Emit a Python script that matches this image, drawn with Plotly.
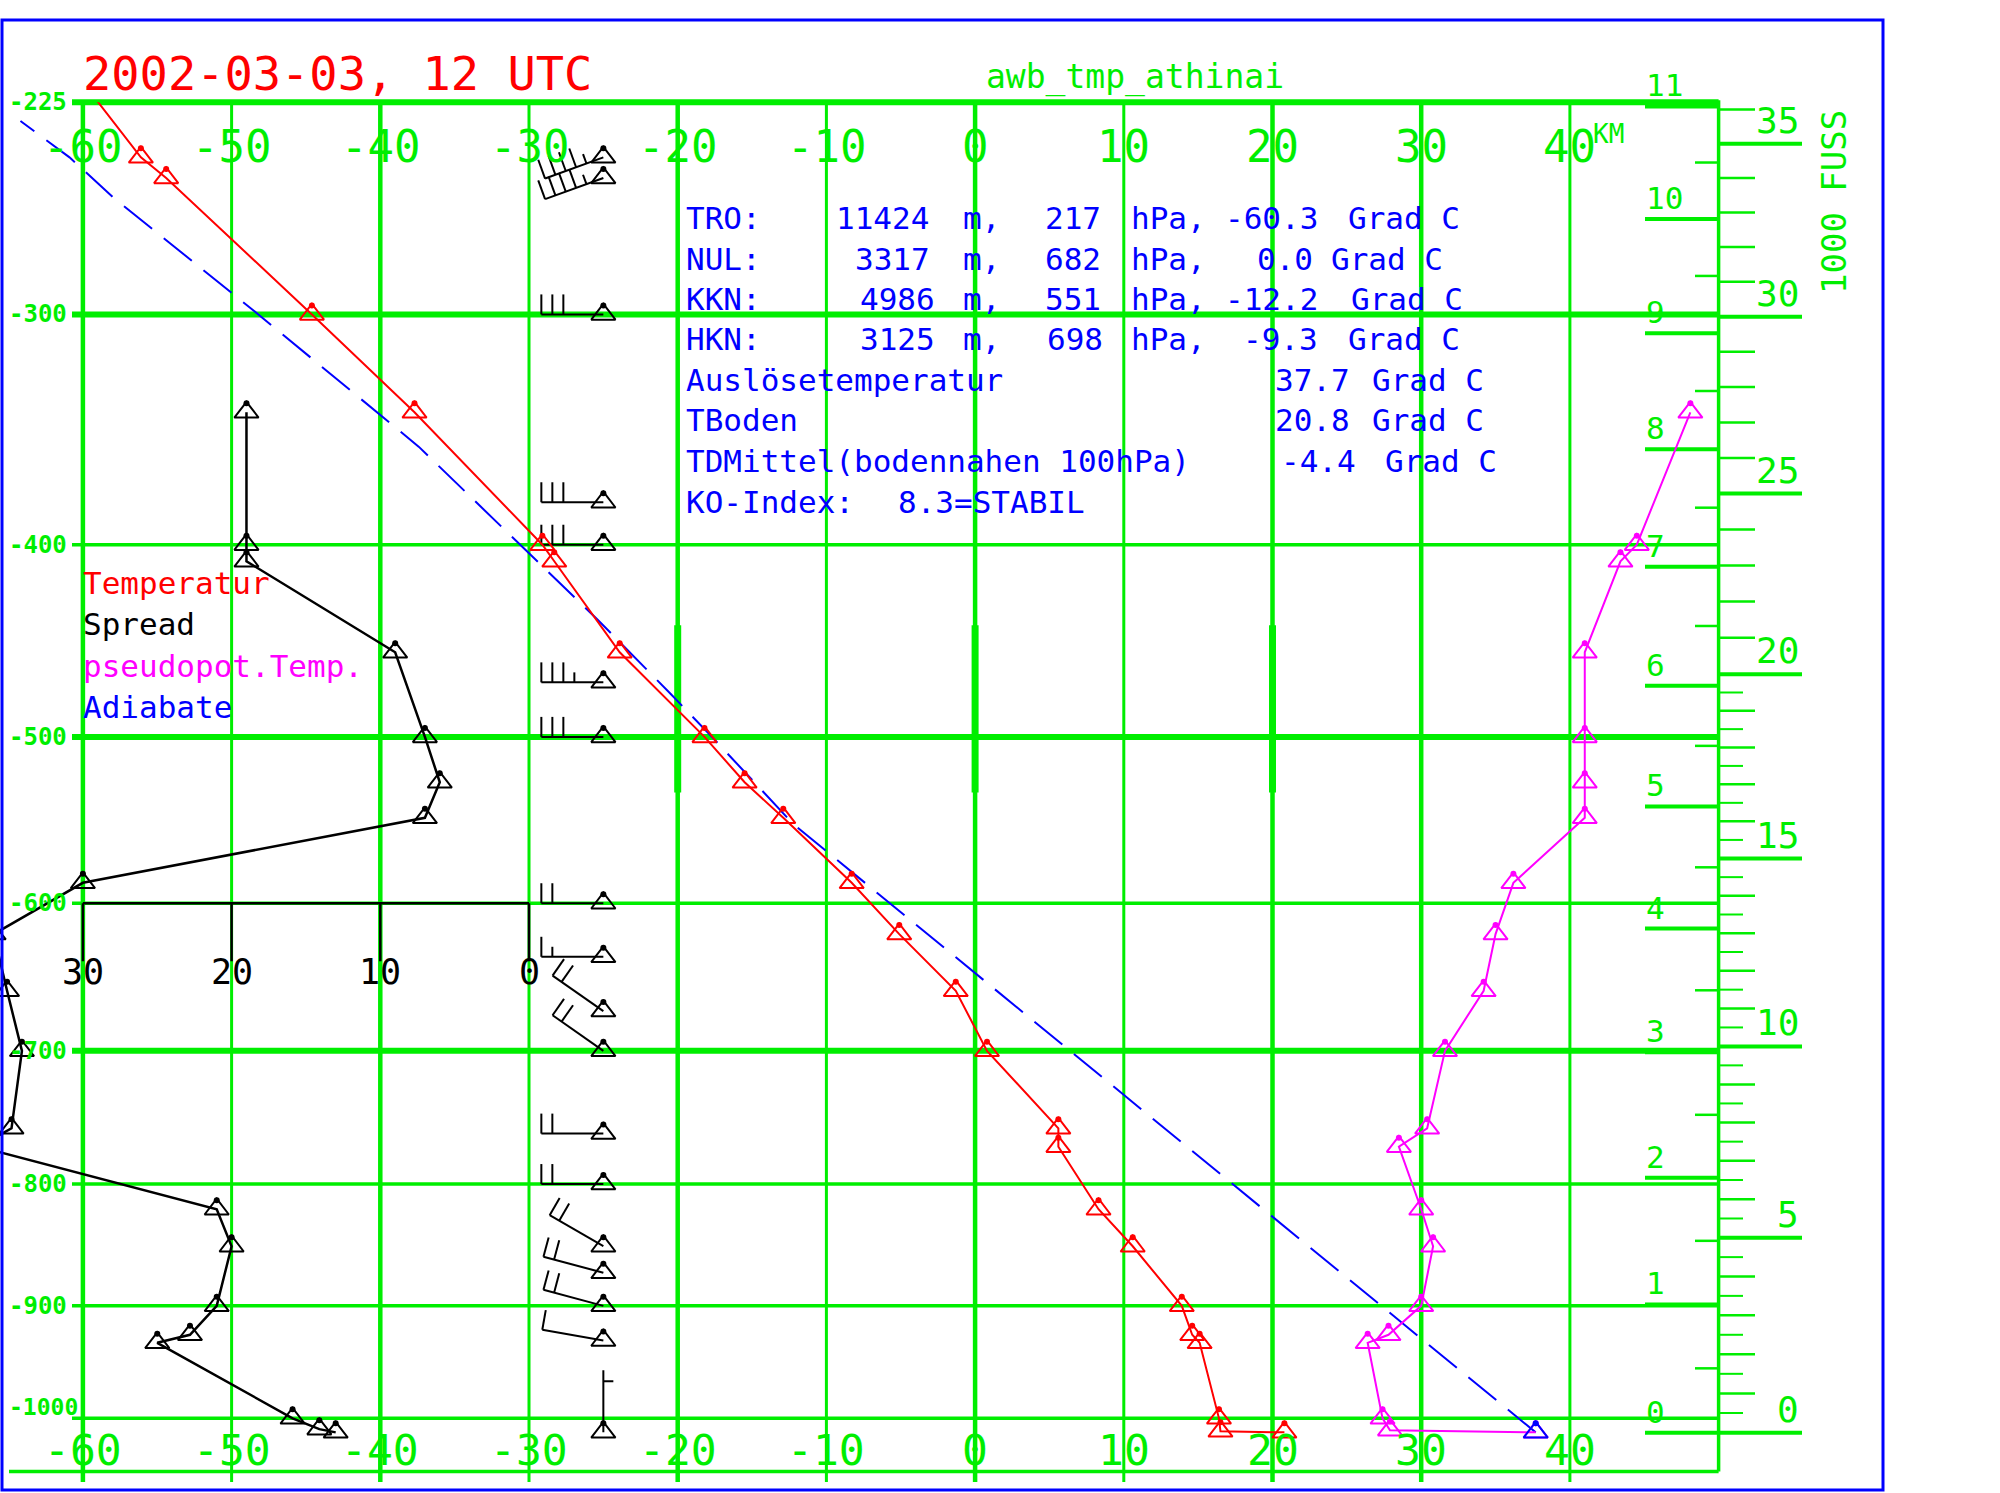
import numpy as np
import plotly.graph_objects as go

# ---------------- data ----------------
temp_p = [217, 243, 250, 300, 340, 400, 408, 454, 500, 526, 547, 587, 620, 658, 700,
          757, 771, 820, 850, 900, 925, 932, 1000, 1012, 1013]
temp_t = [-60.3, -56.1, -54.4, -44.6, -37.7, -29.1, -28.3, -23.9, -18.2, -15.5, -12.9, -8.3,
          -5.1, -1.3, 0.8, 5.6, 5.6, 8.3, 10.6, 13.9, 14.6, 15.1, 16.4, 16.5, 20.8]

spread_p = [340, 400, 408, 454, 500, 526, 547, 587, 620, 658, 700, 757, 771, 820, 850,
            900, 925, 932, 1000, 1010, 1013]
spread_v = [19, 19, 19, 9, 7, 6, 7, 30, 36, 35.1, 34.1, 34.8, 37, 21, 20,
            21, 22.8, 25, 15.9, 14.1, 13]

theta_p = [340, 400, 408, 454, 500, 526, 547, 587, 620, 658, 700, 757, 771, 820, 850,
           900, 925, 932, 1000, 1011, 1013]
theta_t = [48.1, 44.5, 43.4, 41.0, 41.0, 41.0, 41.0, 36.2, 35.0, 34.2, 31.6, 30.4, 28.5, 30.0, 30.8,
           30.0, 27.8, 26.4, 27.4, 27.9, 37.7]

adiab_p = [1013, 551, 500, 476, 437, 400, 355, 300, 257, 243, 231]
adiab_t = [37.7, -12.2, -17.7, -20.5, -25.4, -30.6, -37.4, -48.2, -57.9, -60.9, -64.2]

wind_p = [243, 250, 300, 380, 400, 470, 500, 600, 635, 672, 700, 761, 800, 850, 872, 900, 930, 1013]
wind_dir = [250, 250, 270, 270, 270, 270, 270, 270, 270, 305, 305, 270, 270, 300, 285, 285, 280, 360]
wind_kt = [45, 45, 30, 30, 30, 35, 30, 20, 15, 20, 20, 20, 20, 20, 20, 20, 10, 5]
wind_station_t = -25.0

temp_ticks = [-60, -50, -40, -30, -20, -10, 0, 10, 20, 30, 40]
temp_thick = [-60, -40, -20, 0, 20, 30]
pres_ticks = [225, 300, 400, 500, 600, 700, 800, 900, 1000]
pres_thick = [225, 300, 500, 700]
spread_ticks = [30, 20, 10, 0]
km_ticks = list(range(0, 12))
ft_ticks = [0, 5, 10, 15, 20, 25, 30, 35]

title_text = "2002-03-03, 12 UTC"
station_text = "awb_tmp_athinai"
info_rows = [
    [("TRO:", 685), ("11424", 835), ("m,", 962), ("217", 1044), ("hPa,", 1130), ("-60.3", 1224), ("Grad C", 1347)],
    [("NUL:", 685), ("3317", 854), ("m,", 962), ("682", 1044), ("hPa,", 1130), ("0.0", 1256), ("Grad C", 1330)],
    [("KKN:", 685), ("4986", 859), ("m,", 962), ("551", 1044), ("hPa,", 1130), ("-12.2", 1224), ("Grad C", 1350)],
    [("HKN:", 685), ("3125", 859), ("m,", 962), ("698", 1046), ("hPa,", 1130), ("-9.3", 1242), ("Grad C", 1347)],
    [("Auslösetemperatur", 685), ("37.7", 1274), ("Grad C", 1371)],
    [("TBoden", 685), ("20.8", 1274), ("Grad C", 1371)],
    [("TDMittel(bodennahen 100hPa)", 685), ("-4.4", 1280), ("Grad C", 1384)],
    [("KO-Index:", 685), ("8.3=STABIL", 897)],
]
legend_items = [("Temperatur", "#ff0000"), ("Spread", "#000000"),
                ("pseudopot.Temp.", "#ff00ff"), ("Adiabate", "#0000ff")]

# ---------------- geometry ----------------
W, H = 2000, 1493
KAPPA = 0.286
T_LEFT, T_RIGHT = -65.575, 50.0
PX_PER_DEG = 14.87
P_TOP, P_BOT = 225.0, 1050.0
PY_TOP, PY_BOT = 102.3, 1471.6

GREEN = "#00ee00"
RED = "#ff0000"
MAG = "#ff00ff"
BLUE = "#0000ff"
FONT = "DejaVu Sans Mono"


def stu(p):
    return -np.power(np.asarray(p, dtype=float), KAPPA)


PX_PER_U = (PY_BOT - PY_TOP) / (float(stu(P_TOP)) - float(stu(P_BOT)))


def px_T(t):
    return (t - T_LEFT) * PX_PER_DEG


def py_p(p):
    return PY_TOP + (float(stu(P_TOP)) - float(stu(p))) * PX_PER_U


def fx(px):
    return px / W


def fy(py):
    return 1 - py / H


def isa_p(h_m):
    return 1013.25 * (1 - 2.25577e-5 * h_m) ** 5.25588


shapes = []


def seg(x0, y0, x1, y1, color, width, layer="below"):
    shapes.append(dict(type="line", xref="paper", yref="paper",
                       x0=fx(x0), y0=fy(y0), x1=fx(x1), y1=fy(y1),
                       line=dict(color=color, width=width), layer=layer))


annots = []


def txt(text, px, py, size, color, xanchor="left", yanchor="middle", angle=0):
    annots.append(dict(text=text, x=fx(px), y=fy(py), xref="paper", yref="paper",
                       xanchor=xanchor, yanchor=yanchor, showarrow=False, textangle=angle,
                       borderpad=0,
                       font=dict(family=FONT, size=size, color=color)))


X_RIGHT = px_T(T_RIGHT)

# gridlines
for t in temp_ticks:
    seg(px_T(t), PY_TOP, px_T(t), 1482, GREEN, 4.5 if t in temp_thick else 3)
for p in pres_ticks:
    seg(72, py_p(p), X_RIGHT, py_p(p), GREEN, 6 if p in pres_thick else 3.5)
seg(9, py_p(P_BOT), X_RIGHT, py_p(P_BOT), GREEN, 3.5)
for t in [-20, 0, 20]:
    seg(px_T(t), py_p(440), px_T(t), py_p(532), GREEN, 7)
seg(X_RIGHT, PY_TOP - 2, X_RIGHT, PY_BOT, GREEN, 3.5)

# height axes (standard atmosphere)
for k in km_ticks:
    y = py_p(isa_p(k * 1000.0))
    seg(1645, y, X_RIGHT, y, GREEN, 4)
    txt(str(k), 1645, y - 2, 31, GREEN, "left", "bottom")
for k in range(0, 11):
    y = py_p(isa_p(k * 1000.0 + 500))
    seg(1695, y, X_RIGHT, y, GREEN, 2.5)
for f in ft_ticks:
    y = py_p(isa_p(f * 1000 * 0.3048))
    seg(X_RIGHT, y, 1802, y, GREEN, 4)
    txt(str(f), 1800, y - 2, 36, GREEN, "right", "bottom")
for f in range(1, 37):
    if f % 5:
        y = py_p(isa_p(f * 1000 * 0.3048))
        seg(X_RIGHT, y, 1755, y, GREEN, 2.5)
for f in range(0, 20):
    y = py_p(isa_p((f + 0.5) * 1000 * 0.3048))
    seg(X_RIGHT, y, 1743, y, GREEN, 2)
txt("KM", 1592, 134, 26, GREEN, "left", "middle")
txt("1000 FUSS", 1834, 202, 34, GREEN, "center", "middle", angle=-90)

# spread axis
y600 = py_p(600)
seg(px_T(-30 - max(spread_ticks)), y600, px_T(-30 - min(spread_ticks)), y600, "black", 2.5, "above")
for s in spread_ticks:
    xs = px_T(-30 - s)
    seg(xs, y600, xs, y600 + 58, "black", 2.5, "above")
    txt(str(s), xs, 972, 35, "black", "center", "middle")

# frame
shapes.append(dict(type="rect", xref="paper", yref="paper", x0=fx(2), y0=fy(20), x1=fx(1883), y1=fy(1490),
                   line=dict(color=BLUE, width=3), layer="above"))

# labels
for t in temp_ticks:
    txt(str(t), px_T(t), 146, 44, GREEN, "center", "middle")
    txt(str(t), px_T(t), 1424, 43, GREEN, "center", "top")
for p in pres_ticks:
    if p == 1000:
        txt("<b>-%d</b>" % p, 8, py_p(p) + 3, 23, GREEN, "left", "bottom")
    else:
        txt("<b>-%d</b>" % p, 8, py_p(p), 24, GREEN, "left", "middle")

txt(title_text, 82, 73, 47, RED, "left", "middle")
txt(station_text, 1135, 77, 33, GREEN, "center", "middle")
for i, row in enumerate(info_rows):
    for word, x in row:
        txt(word, x, 218 + 40.5 * i, 31, BLUE, "left", "middle")
for i, (name, col) in enumerate(legend_items):
    txt(name, 82, 583 + 41.3 * i, 31, col, "left", "middle")

# ---------------- traces ----------------
fig = go.Figure()
TRI_SIZE = 21
tri = dict(symbol="triangle-up-open", size=TRI_SIZE, line=dict(width=2))
APEX = (TRI_SIZE / 2 - 1.5) / PX_PER_U   # apex dot offset (style)


def apex_dots(xs, ps, color):
    return go.Scatter(x=list(xs), y=list(stu(ps) + APEX), mode="markers",
                      marker=dict(symbol="circle", size=6, color=color),
                      hoverinfo="skip", showlegend=False)


# wind barbs
SHAFT, FULL, HALF, SPACE = 62.0, 20.0, 10.0, 11.0
bx, by = [], []
for p, d, v in zip(wind_p, wind_dir, wind_kt):
    x0, y0 = wind_station_t, float(stu(p))
    r = np.deg2rad(d)
    sx, sy = np.sin(r), np.cos(r)
    qx, qy = sy, -sx

    def pt(dx, dy):
        return x0 + dx / PX_PER_DEG, y0 + dy / PX_PER_U

    a, b = pt(0, 0), pt(SHAFT * sx, SHAFT * sy)
    bx += [a[0], b[0], None]
    by += [a[1], b[1], None]
    nfull = int(v // 10)
    half = (v % 10) >= 5
    pos = SHAFT if nfull > 0 else SHAFT - SPACE
    for i in range(nfull):
        a = pt(pos * sx, pos * sy)
        b = pt(pos * sx + FULL * qx, pos * sy + FULL * qy)
        bx += [a[0], b[0], None]
        by += [a[1], b[1], None]
        pos -= SPACE
    if half:
        a = pt(pos * sx, pos * sy)
        b = pt(pos * sx + HALF * qx, pos * sy + HALF * qy)
        bx += [a[0], b[0], None]
        by += [a[1], b[1], None]

fig.add_trace(go.Scatter(x=bx, y=by, mode="lines", line=dict(color="black", width=2),
                         hoverinfo="skip", cliponaxis=False))
fig.add_trace(go.Scatter(x=[wind_station_t] * len(wind_p), y=stu(wind_p), mode="markers",
                         marker=dict(color="black", **tri), name="Wind"))
fig.add_trace(apex_dots([wind_station_t] * len(wind_p), wind_p, "black"))

spread_x = -30 - np.array(spread_v, dtype=float)
fig.add_trace(go.Scatter(x=spread_x, y=stu(spread_p), mode="lines+markers",
                         line=dict(color="black", width=2.5), marker=dict(color="black", **tri),
                         name="Spread"))
fig.add_trace(apex_dots(spread_x, spread_p, "black"))
fig.add_trace(go.Scatter(x=adiab_t, y=stu(adiab_p), mode="lines",
                         line=dict(color=BLUE, width=2, dash="36px,15px"), name="Adiabate"))
fig.add_trace(go.Scatter(x=theta_t, y=stu(theta_p), mode="lines+markers",
                         line=dict(color=MAG, width=2), marker=dict(color=MAG, **tri),
                         name="pseudopot.Temp."))
fig.add_trace(apex_dots(theta_t, theta_p, MAG))
fig.add_trace(go.Scatter(x=temp_t, y=stu(temp_p), mode="lines+markers",
                         line=dict(color=RED, width=2), marker=dict(color=RED, **tri),
                         name="Temperatur"))
fig.add_trace(apex_dots(temp_t, temp_p, RED))
fig.add_trace(go.Scatter(x=adiab_t[:1], y=stu(adiab_p[:1]), mode="markers",
                         marker=dict(color=BLUE, **tri), name="Ausloesetemperatur"))
fig.add_trace(apex_dots(adiab_t[:1], adiab_p[:1], BLUE))

fig.update_layout(
    width=W, height=H, margin=dict(l=0, r=0, t=0, b=0, pad=0),
    paper_bgcolor="white", plot_bgcolor="rgba(0,0,0,0)", showlegend=False,
    xaxis=dict(visible=False, range=[T_LEFT, T_RIGHT], domain=[0, fx(X_RIGHT)], fixedrange=True),
    yaxis=dict(visible=False, range=[float(stu(P_BOT)), float(stu(P_TOP))],
               domain=[fy(PY_BOT), fy(PY_TOP)], fixedrange=True),
    shapes=shapes, annotations=annots,
)

fig.write_html("out.html", config={"displayModeBar": False},
               post_script="document.body.style.margin='0px';document.body.style.overflow='hidden';")
